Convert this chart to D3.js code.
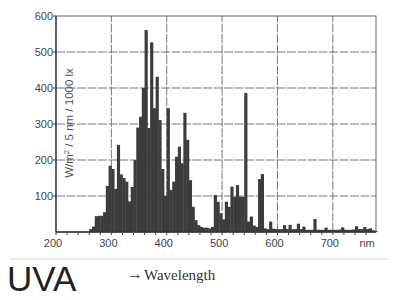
<!DOCTYPE html>
<html lang="en">
<head>
    <meta charset="UTF-8">
    <title>UVA lamp spectrum</title>
    <script src="https://d3js.org/d3.v7.min.js"></script>
    <style>
        body { margin: 0; background: #fff; }
        svg text { font-family: "Liberation Sans", Arial, sans-serif; }
    </style>
</head>
<body>
<div id="chart"></div>
<script>
// 5 nm bins: start wavelength (nm) and irradiance (W/m2 / 5 nm / 1000 lx)
var binStart = [
    260, 265, 270, 275, 280, 285, 290, 295, 300, 305,
    310, 315, 320, 325, 330, 335, 340, 345, 350, 355,
    360, 365, 370, 375, 380, 385, 390, 395, 400, 405,
    410, 415, 420, 425, 430, 435, 440, 445, 450, 455,
    460, 465, 470, 475, 480, 485, 490, 495, 500, 505,
    510, 515, 520, 525, 530, 535, 540, 545, 550, 555,
    560, 565, 570, 575, 580, 585, 590, 595, 600, 605,
    610, 615, 620, 625, 630, 635, 640, 645, 650, 655,
    660, 665, 670, 675, 680, 685, 690, 695, 700, 705,
    710, 715, 720, 725, 730, 735, 740, 745, 750, 755,
    760, 765, 770, 775
];
var irradiance = [
    8, 15, 44, 45, 45, 55, 128, 184, 175, 120,
    242, 160, 150, 140, 85, 125, 200, 290, 320, 400,
    561, 289, 527, 344, 431, 311, 175, 100, 344, 117,
    140, 209, 237, 191, 331, 256, 144, 70, 33, 19,
    14, 12, 12, 10, 14, 103, 84, 52, 35, 84,
    70, 126, 98, 130, 98, 98, 386, 29, 43, 18,
    14, 147, 161, 10, 8, 29, 9, 8, 8, 8,
    19, 8, 20, 8, 8, 23, 8, 15, 6, 6,
    6, 36, 6, 6, 6, 12, 6, 6, 6, 6,
    7, 13, 6, 6, 6, 7, 16, 8, 8, 14,
    8, 10, 5, 3
];
var xTicks = [200, 300, 400, 500, 600, 700];
var xGrid = [300, 400, 500, 600, 700];
var yTicks = [100, 200, 300, 400, 500, 600];
var minorTicks = d3.range(200, 780, 20);
var binWidth = 5;

var svg = d3.select("#chart")
    .append("svg")
    .attr("width", 400)
    .attr("height", 300);

var x = d3.scaleLinear().domain([200, 778]).range([56, 376]);
var y = d3.scaleLinear().domain([0, 600]).range([232, 16]);

// faint page edge line from the scan
svg.append("line")
    .attr("x1", 10).attr("x2", 388)
    .attr("y1", 259).attr("y2", 259)
    .attr("stroke", "#e2e2e2")
    .attr("stroke-width", 1.5);

// grid
var grid = svg.append("g").attr("stroke", "#6a6a6a").attr("stroke-width", 0.9);
grid.selectAll(".hg")
    .data(yTicks.slice(0, -1))
    .enter().append("line")
    .attr("x1", x(200)).attr("x2", x(778))
    .attr("y1", function(d) { return y(d); })
    .attr("y2", function(d) { return y(d); })
    .attr("stroke-dasharray", "9,1.5");
grid.selectAll(".vg")
    .data(xGrid)
    .enter().append("line")
    .attr("x1", function(d) { return x(d); })
    .attr("x2", function(d) { return x(d); })
    .attr("y1", y(0)).attr("y2", y(600))
    .attr("stroke-dasharray", "9,1.5");

// spectrum bars
svg.append("g")
    .selectAll("rect")
    .data(binStart)
    .enter().append("rect")
    .attr("x", function(d) { return x(d); })
    .attr("width", function(d) { return x(d + binWidth) - x(d) + 0.4; })
    .attr("y", function(d, i) { return y(irradiance[i]); })
    .attr("height", function(d, i) { return y(0) - y(irradiance[i]); })
    .attr("fill", "#3c3c3c");

// frame
svg.append("rect")
    .attr("x", x(200)).attr("y", y(600))
    .attr("width", x(778) - x(200))
    .attr("height", y(0) - y(600))
    .attr("fill", "none")
    .attr("stroke", "#555")
    .attr("stroke-width", 0.9);
svg.append("line")
    .attr("x1", x(200)).attr("x2", x(778))
    .attr("y1", y(0)).attr("y2", y(0))
    .attr("stroke", "#333").attr("stroke-width", 1.3);
svg.append("line")
    .attr("x1", x(200)).attr("x2", x(200))
    .attr("y1", y(0)).attr("y2", y(600))
    .attr("stroke", "#333").attr("stroke-width", 1.3);

// x minor ticks
svg.append("g").selectAll("line")
    .data(minorTicks)
    .enter().append("line")
    .attr("x1", function(d) { return x(d); })
    .attr("x2", function(d) { return x(d); })
    .attr("y1", y(0)).attr("y2", y(0) + 3)
    .attr("stroke", "#444");

// y ticks
svg.append("g").selectAll("line")
    .data(yTicks)
    .enter().append("line")
    .attr("x1", x(200) - 3).attr("x2", x(200))
    .attr("y1", function(d) { return y(d); })
    .attr("y2", function(d) { return y(d); })
    .attr("stroke", "#444");

// tick labels
svg.append("g").selectAll("text")
    .data(xTicks)
    .enter().append("text")
    .attr("x", function(d) { return x(d) - 3; })
    .attr("y", 247)
    .attr("text-anchor", "middle")
    .attr("font-size", 11)
    .attr("fill", "#444")
    .text(function(d) { return d; });
svg.append("text")
    .attr("x", x(762))
    .attr("y", 247)
    .attr("text-anchor", "middle")
    .attr("font-size", 11)
    .attr("fill", "#444")
    .text("nm");
svg.append("g").selectAll("text")
    .data(yTicks)
    .enter().append("text")
    .attr("x", x(200) - 3)
    .attr("y", function(d) { return y(d); })
    .attr("dy", "0.35em")
    .attr("text-anchor", "end")
    .attr("font-size", 11)
    .attr("fill", "#444")
    .text(function(d) { return d; });

// y axis title inside the plot
var ylab = svg.append("text")
    .attr("transform", "translate(73,123) rotate(-90)")
    .attr("text-anchor", "middle")
    .attr("font-size", 11.5)
    .attr("fill", "#555");
ylab.append("tspan").text("W/m");
ylab.append("tspan").attr("font-size", 7.5).attr("dy", -4).text("2");
ylab.append("tspan").attr("dy", 4).text(" / 5 nm / 1000 lx");

// caption
svg.append("text")
    .attr("x", 7)
    .attr("y", 291)
    .attr("font-size", 35)
    .attr("fill", "#222")
    .text("UVA");
var cap = svg.append("text")
    .attr("x", 127)
    .attr("y", 280)
    .style("font-family", "'Liberation Serif', 'Times New Roman', serif")
    .attr("font-size", 15)
    .attr("fill", "#333");
cap.append("tspan").attr("font-size", 16).attr("dy", -1).text("\u2192");
cap.append("tspan").attr("dy", 1).attr("dx", 1).text("Wavelength");
</script>
</body>
</html>
